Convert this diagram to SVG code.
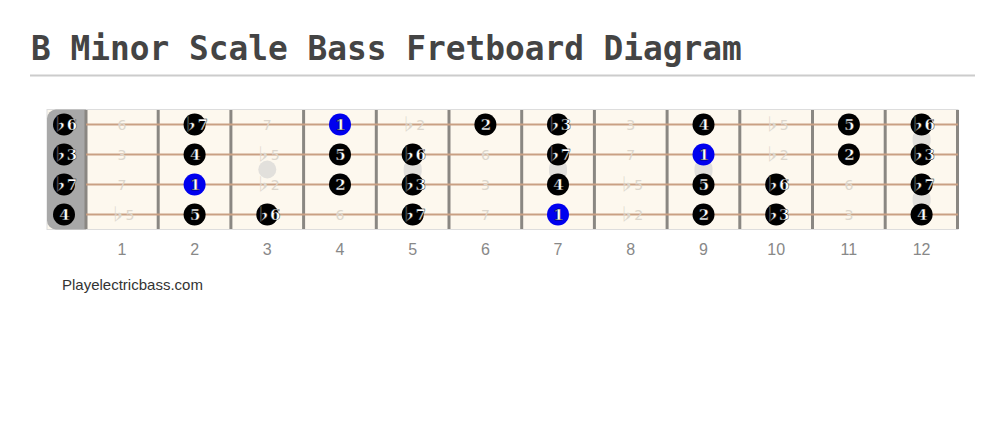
<svg xmlns="http://www.w3.org/2000/svg" width="1005" height="428" viewBox="0 0 1005 428">
<style>
.title{font-family:"DejaVu Sans Mono",monospace;font-weight:bold;font-size:32.8px;fill:#444}
.fnum{font-family:"Liberation Sans",Arial,sans-serif;font-size:16px;fill:#888;text-anchor:middle}
.wm{font-family:"Liberation Sans",Arial,sans-serif;font-size:15px;fill:#333}
.ghost{font-family:"DejaVu Sans",sans-serif;font-size:14px;fill:#dcd6cc;text-anchor:middle;dominant-baseline:central}
.f{font-family:"Noto Sans CJK JP","DejaVu Sans",sans-serif;font-size:16px;font-weight:900;baseline-shift:2px}
.str{stroke:#c9a083;stroke-width:2}
.fret{stroke:#8a8782;stroke-width:3}
.inlay{fill:#e2e0dc}
.n circle{fill:#000}
.n.r circle{fill:#0000ee}
.n text{font-family:"DejaVu Serif",serif;font-weight:bold;font-size:15px;fill:#fff;stroke:#000;stroke-width:0.4;text-anchor:middle;dominant-baseline:central;letter-spacing:-1px}
</style>
<text class="title" x="31" y="60">B Minor Scale Bass Fretboard Diagram</text>
<line x1="30" y1="75.5" x2="975" y2="75.5" stroke="#ccc" stroke-width="2"/>

<g id="fretboard">
<rect x="47" y="109.5" width="911" height="120" fill="#fdf8ee" stroke="#ddd" stroke-width="1"/>
<path d="M86 109.5 H56 a9 9 0 0 0 -9 9 V220.5 a9 9 0 0 0 9 9 H86 Z" fill="#a8a8a8"/>
<g id="inlays">
<circle class="inlay" cx="267.3" cy="169.5" r="9"/>
<rect class="inlay" x="403.7" y="160" width="18" height="20" rx="8"/>
<rect class="inlay" x="549" y="160" width="18" height="20" rx="8"/>
<rect class="inlay" x="694.5" y="160" width="18" height="20" rx="8"/>
<rect class="inlay" x="912.6" y="130" width="18" height="20" rx="8"/>
<rect class="inlay" x="912.6" y="190" width="18" height="20" rx="8"/>
</g>
<g id="frets">
<line class="fret" x1="86" y1="110" x2="86" y2="229" stroke-width="2.5"/>
<line class="fret" x1="158.2" y1="110" x2="158.2" y2="229"/>
<line class="fret" x1="230.9" y1="110" x2="230.9" y2="229"/>
<line class="fret" x1="303.6" y1="110" x2="303.6" y2="229"/>
<line class="fret" x1="376.3" y1="110" x2="376.3" y2="229"/>
<line class="fret" x1="449" y1="110" x2="449" y2="229"/>
<line class="fret" x1="521.7" y1="110" x2="521.7" y2="229"/>
<line class="fret" x1="594.4" y1="110" x2="594.4" y2="229"/>
<line class="fret" x1="667.1" y1="110" x2="667.1" y2="229"/>
<line class="fret" x1="739.8" y1="110" x2="739.8" y2="229"/>
<line class="fret" x1="812.5" y1="110" x2="812.5" y2="229"/>
<line class="fret" x1="885.2" y1="110" x2="885.2" y2="229"/>
<line class="fret" x1="957.5" y1="110" x2="957.5" y2="229"/>
</g>
<g id="strings">
<line class="str" x1="86" y1="124.5" x2="958" y2="124.5"/>
<line class="str" x1="86" y1="154.5" x2="958" y2="154.5"/>
<line class="str" x1="86" y1="184.5" x2="958" y2="184.5"/>
<line class="str" x1="86" y1="214.5" x2="958" y2="214.5"/>
</g>
</g>

<g id="ghost-notes">
<text class="ghost" x="121.9" y="124.5">6</text>
<text class="ghost" x="267.3" y="124.5">7</text>
<text class="ghost" x="412.7" y="124.5"><tspan class="f">♭</tspan>2</text>
<text class="ghost" x="630.8" y="124.5">3</text>
<text class="ghost" x="776.2" y="124.5"><tspan class="f">♭</tspan>5</text>
<text class="ghost" x="121.9" y="154.5">3</text>
<text class="ghost" x="267.3" y="154.5"><tspan class="f">♭</tspan>5</text>
<text class="ghost" x="485.4" y="154.5">6</text>
<text class="ghost" x="630.8" y="154.5">7</text>
<text class="ghost" x="776.2" y="154.5"><tspan class="f">♭</tspan>2</text>
<text class="ghost" x="121.9" y="184.5">7</text>
<text class="ghost" x="267.3" y="184.5"><tspan class="f">♭</tspan>2</text>
<text class="ghost" x="485.4" y="184.5">3</text>
<text class="ghost" x="630.8" y="184.5"><tspan class="f">♭</tspan>5</text>
<text class="ghost" x="848.9" y="184.5">6</text>
<text class="ghost" x="121.9" y="214.5"><tspan class="f">♭</tspan>5</text>
<text class="ghost" x="340" y="214.5">6</text>
<text class="ghost" x="485.4" y="214.5">7</text>
<text class="ghost" x="630.8" y="214.5"><tspan class="f">♭</tspan>2</text>
<text class="ghost" x="848.9" y="214.5">3</text>
</g>

<g id="notes">
<g id="n-0-1" class="n"><circle cx="64" cy="124.5" r="11"/><text x="64" y="124.5"><tspan class="f">♭</tspan>6</text></g>
<g id="n-0-2" class="n"><circle cx="64" cy="154.5" r="11"/><text x="64" y="154.5"><tspan class="f">♭</tspan>3</text></g>
<g id="n-0-3" class="n"><circle cx="64" cy="184.5" r="11"/><text x="64" y="184.5"><tspan class="f">♭</tspan>7</text></g>
<g id="n-0-4" class="n"><circle cx="64" cy="214.5" r="11"/><text x="64" y="214.5">4</text></g>

<g id="n-2-1" class="n"><circle cx="194.6" cy="124.5" r="11"/><text x="194.6" y="124.5"><tspan class="f">♭</tspan>7</text></g>
<g id="n-4-1" class="n r"><circle cx="340" cy="124.5" r="11"/><text x="340" y="124.5">1</text></g>
<g id="n-6-1" class="n"><circle cx="485.4" cy="124.5" r="11"/><text x="485.4" y="124.5">2</text></g>
<g id="n-7-1" class="n"><circle cx="558" cy="124.5" r="11"/><text x="558" y="124.5"><tspan class="f">♭</tspan>3</text></g>
<g id="n-9-1" class="n"><circle cx="703.5" cy="124.5" r="11"/><text x="703.5" y="124.5">4</text></g>
<g id="n-11-1" class="n"><circle cx="848.9" cy="124.5" r="11"/><text x="848.9" y="124.5">5</text></g>
<g id="n-12-1" class="n"><circle cx="921.6" cy="124.5" r="11"/><text x="921.6" y="124.5"><tspan class="f">♭</tspan>6</text></g>

<g id="n-2-2" class="n"><circle cx="194.6" cy="154.5" r="11"/><text x="194.6" y="154.5">4</text></g>
<g id="n-4-2" class="n"><circle cx="340" cy="154.5" r="11"/><text x="340" y="154.5">5</text></g>
<g id="n-5-2" class="n"><circle cx="412.7" cy="154.5" r="11"/><text x="412.7" y="154.5"><tspan class="f">♭</tspan>6</text></g>
<g id="n-7-2" class="n"><circle cx="558" cy="154.5" r="11"/><text x="558" y="154.5"><tspan class="f">♭</tspan>7</text></g>
<g id="n-9-2" class="n r"><circle cx="703.5" cy="154.5" r="11"/><text x="703.5" y="154.5">1</text></g>
<g id="n-11-2" class="n"><circle cx="848.9" cy="154.5" r="11"/><text x="848.9" y="154.5">2</text></g>
<g id="n-12-2" class="n"><circle cx="921.6" cy="154.5" r="11"/><text x="921.6" y="154.5"><tspan class="f">♭</tspan>3</text></g>

<g id="n-2-3" class="n r"><circle cx="194.6" cy="184.5" r="11"/><text x="194.6" y="184.5">1</text></g>
<g id="n-4-3" class="n"><circle cx="340" cy="184.5" r="11"/><text x="340" y="184.5">2</text></g>
<g id="n-5-3" class="n"><circle cx="412.7" cy="184.5" r="11"/><text x="412.7" y="184.5"><tspan class="f">♭</tspan>3</text></g>
<g id="n-7-3" class="n"><circle cx="558" cy="184.5" r="11"/><text x="558" y="184.5">4</text></g>
<g id="n-9-3" class="n"><circle cx="703.5" cy="184.5" r="11"/><text x="703.5" y="184.5">5</text></g>
<g id="n-10-3" class="n"><circle cx="776.2" cy="184.5" r="11"/><text x="776.2" y="184.5"><tspan class="f">♭</tspan>6</text></g>
<g id="n-12-3" class="n"><circle cx="921.6" cy="184.5" r="11"/><text x="921.6" y="184.5"><tspan class="f">♭</tspan>7</text></g>

<g id="n-2-4" class="n"><circle cx="194.6" cy="214.5" r="11"/><text x="194.6" y="214.5">5</text></g>
<g id="n-3-4" class="n"><circle cx="267.3" cy="214.5" r="11"/><text x="267.3" y="214.5"><tspan class="f">♭</tspan>6</text></g>
<g id="n-5-4" class="n"><circle cx="412.7" cy="214.5" r="11"/><text x="412.7" y="214.5"><tspan class="f">♭</tspan>7</text></g>
<g id="n-7-4" class="n r"><circle cx="558" cy="214.5" r="11"/><text x="558" y="214.5">1</text></g>
<g id="n-9-4" class="n"><circle cx="703.5" cy="214.5" r="11"/><text x="703.5" y="214.5">2</text></g>
<g id="n-10-4" class="n"><circle cx="776.2" cy="214.5" r="11"/><text x="776.2" y="214.5"><tspan class="f">♭</tspan>3</text></g>
<g id="n-12-4" class="n"><circle cx="921.6" cy="214.5" r="11"/><text x="921.6" y="214.5">4</text></g>
</g>

<g id="fret-numbers">
<text class="fnum" x="121.9" y="255">1</text>
<text class="fnum" x="194.6" y="255">2</text>
<text class="fnum" x="267.3" y="255">3</text>
<text class="fnum" x="340" y="255">4</text>
<text class="fnum" x="412.7" y="255">5</text>
<text class="fnum" x="485.4" y="255">6</text>
<text class="fnum" x="558" y="255">7</text>
<text class="fnum" x="630.8" y="255">8</text>
<text class="fnum" x="703.5" y="255">9</text>
<text class="fnum" x="776.2" y="255">10</text>
<text class="fnum" x="848.9" y="255">11</text>
<text class="fnum" x="921.6" y="255">12</text>
</g>
<text class="wm" x="62" y="290">Playelectricbass.com</text>
</svg>
